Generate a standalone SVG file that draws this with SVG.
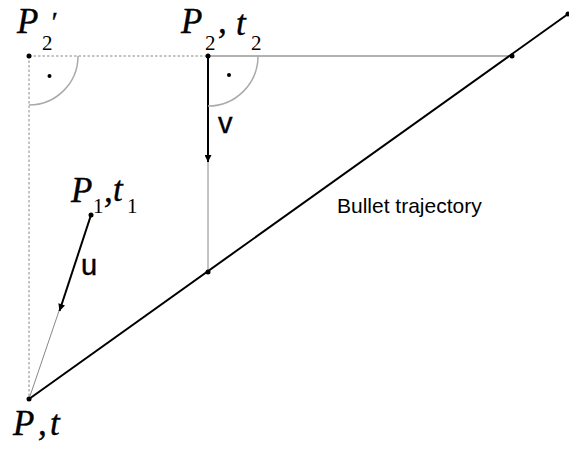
<svg xmlns="http://www.w3.org/2000/svg" width="569" height="453" viewBox="0 0 569 453">
<style>
.lbl{font-family:"Liberation Serif","Times New Roman",serif;font-style:italic;font-size:35px;fill:#000;stroke:#000;stroke-width:0.4}
.prime{font-family:"Liberation Serif","Times New Roman",serif;font-style:italic;font-size:28px;fill:#000;stroke:#000;stroke-width:0.4}
.sub{font-family:"Liberation Serif","Times New Roman",serif;font-size:21px;fill:#000}
.vec{font-family:"Liberation Sans",Arial,sans-serif;font-size:29px;fill:#000;stroke:#000;stroke-width:0.4}
.note{font-family:"Liberation Sans",Arial,sans-serif;font-size:21px;fill:#000}
.dot{fill:#000}
.traj{stroke:#000;stroke-width:2;fill:none}
.thick{stroke:#000;stroke-width:2;fill:none}
.thin{stroke:#888;stroke-width:1;fill:none}
.hor{stroke:#999;stroke-width:1.5;fill:none}
.dotted{stroke:#888;stroke-width:1;stroke-dasharray:2.5,2;fill:none}
.arc{stroke:#aaa;stroke-width:1.5;fill:none}
</style>
<defs>
<marker id="ah" viewBox="0 0 10 10" refX="10" refY="5" markerWidth="4" markerHeight="3.5" orient="auto" markerUnits="strokeWidth">
<path d="M0,0 L10,5 L0,10 z" fill="#000"/>
</marker>
</defs>
<g id="connectors">
<line class="dotted" x1="29" y1="56" x2="208" y2="56"/>
<line class="dotted" x1="29" y1="56" x2="29" y2="399"/>
<line class="hor" x1="208" y1="56" x2="512" y2="56"/>
<line class="traj" x1="29" y1="399" x2="568" y2="14"/>
<line class="thin" x1="208" y1="160" x2="208" y2="272"/>
<line class="thick" x1="208" y1="56" x2="208" y2="162" marker-end="url(#ah)"/>
<line class="thin" x1="60" y1="308" x2="29" y2="399"/>
<line class="thick" x1="91" y1="215" x2="59.5" y2="311" marker-end="url(#ah)"/>
<path class="arc" d="M78,56 A49,49 0 0 1 29,105"/>
<path class="arc" d="M258,56 A50,50 0 0 1 208,106"/>
<circle class="dot" cx="49.5" cy="76" r="2"/>
<circle class="dot" cx="229" cy="75" r="2"/>
</g>
<g id="P2prime">
<circle class="dot" cx="29" cy="56" r="2.5"/>
<text class="lbl" x="17" y="33">P</text>
<text class="prime" x="50" y="31">′</text>
<text class="sub" x="42" y="50">2</text>
</g>
<g id="P2">
<circle class="dot" cx="208" cy="56" r="2.5"/>
<text class="lbl" x="181" y="33">P</text>
<text class="sub" x="205" y="50">2</text>
<text class="lbl" x="218" y="33" font-style="normal">,</text>
<text class="lbl" x="236" y="35">t</text>
<text class="sub" x="251" y="50">2</text>
</g>
<g id="Pmid">
<circle class="dot" cx="512" cy="56" r="2.5"/>
</g>
<g id="Pend">
<circle class="dot" cx="568" cy="14" r="2.5"/>
</g>
<g id="Pv">
<circle class="dot" cx="208" cy="272" r="2.5"/>
</g>
<g id="P1">
<circle class="dot" cx="91" cy="215" r="2.5"/>
<text class="lbl" x="71" y="202">P</text>
<text class="sub" x="93" y="213">1</text>
<text class="lbl" x="104" y="202" font-style="normal">,</text>
<text class="lbl" x="113" y="201">t</text>
<text class="sub" x="127" y="213">1</text>
</g>
<g id="P">
<circle class="dot" cx="29" cy="399" r="2.5"/>
<text class="lbl" x="13" y="435">P</text>
<text class="lbl" x="38" y="435" font-style="normal">,</text>
<text class="lbl" x="50" y="435">t</text>
</g>
<g id="labels">
<text class="vec" x="218" y="133">v</text>
<text class="vec" x="81" y="275">u</text>
<text class="note" x="337" y="213">Bullet trajectory</text>
</g>
</svg>
